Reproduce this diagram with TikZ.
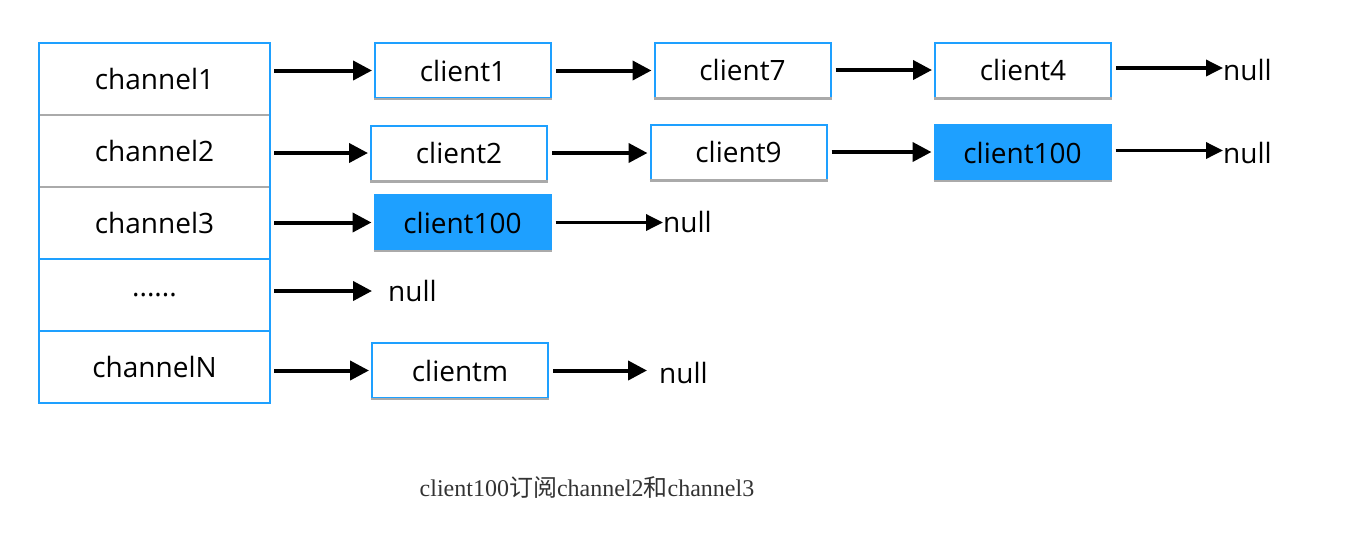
\documentclass[tikz,border=0pt]{standalone}
\usepackage{fontspec}
\setmainfont{Open Sans}
\newfontfamily\capfont{Liberation Serif}
\newfontfamily\cjk{Noto Sans CJK SC}
\usetikzlibrary{arrows.meta}
\definecolor{cblue}{RGB}{30,160,255}
\definecolor{cgray}{RGB}{170,170,170}
\tikzset{
  lbl/.style={font=\fontsize{28}{32}\selectfont, inner sep=0pt},
  cbox/.style={lbl, draw=cblue, line width=2pt, minimum width=176pt, minimum height=55pt, fill=white},
  fbox/.style={cbox, fill=cblue},
  chcell/.style={lbl, minimum width=231pt, minimum height=72pt},
  arr/.style={line width=4pt, -{Triangle[length=19pt,width=19pt]}, shorten <=4pt, shorten >=2pt},
  narr/.style={line width=3.5pt, -{Triangle[length=17pt,width=16pt]}, shorten <=4pt},
  nulltxt/.style={lbl, anchor=west},
  bottomline/.style={cgray, line width=2.5pt},
}
\begin{document}
\begin{tikzpicture}[x=1pt,y=-1pt]
\useasboundingbox (0,0) rectangle (1368,550);
% channel table
\node[chcell] (ch1) at (154.5,79) {channel1};
\node[chcell] (ch2) at (154.5,151) {channel2};
\node[chcell] (ch3) at (154.5,223) {channel3};
\node[chcell] (ch4) at (154.5,295) {......};
\node[chcell] (ch5) at (154.5,367) {channelN};
\draw[cgray, line width=2pt] (ch1.south west) -- (ch1.south east);
\draw[cgray, line width=2pt] (ch2.south west) -- (ch2.south east);
\draw[cblue, line width=2pt] (ch3.south west) -- (ch3.south east);
\draw[cblue, line width=2pt] (ch4.south west) -- (ch4.south east);
\draw[cblue, line width=2pt] (ch1.north west) rectangle (ch5.south east);
% clients
\node[cbox] (c11) at (463,70.5) {client1};
\node[cbox] (c12) at (742.5,70) {client7};
\node[cbox] (c13) at (1023,70) {client4};
\node[cbox] (c21) at (459,153) {client2};
\node[cbox] (c22) at (738.5,152) {client9};
\node[fbox] (c23) at (1022.5,152.5) {client100};
\node[fbox] (c31) at (462.5,222.5) {client100};
\node[cbox] (c51) at (460,370.5) {clientm};
\foreach \n in {c11,c12,c13,c21,c22,c23,c31,c51}
  \draw[bottomline] (\n.south west) -- (\n.south east);
% nulls
\node[nulltxt] (n1) at (1223,70) {null};
\node[nulltxt] (n2) at (1223,153) {null};
\node[nulltxt] (n3) at (663,222) {null};
\node[nulltxt] (n4) at (388,291) {null};
\node[nulltxt] (n5) at (659,373) {null};
% arrows
\draw[arr] (ch1.east |- c11.west) -- (c11.west);
\draw[arr] (c11.east) -- (c11.east -| c12.west);
\draw[arr] (c12.east) -- (c12.east -| c13.west);
\draw[narr] ([yshift=2pt]c13.east) -- ([yshift=2pt]c13.east -| n1.west);
\draw[arr] (ch2.east |- c21.west) -- (c21.west);
\draw[arr] (c21.east) -- (c21.east -| c22.west);
\draw[arr] (c22.east) -- (c22.east -| c23.west);
\draw[narr] ([yshift=2pt]c23.east) -- ([yshift=2pt]c23.east -| n2.west);
\draw[arr] (ch3.east |- c31.west) -- (c31.west);
\draw[narr] (c31.east) -- (c31.east -| n3.west);
\draw[arr, shorten >=16pt] (ch4.east |- n4.west) -- (n4.west);
\draw[arr] (ch5.east |- c51.west) -- (c51.west);
\draw[arr, shorten >=12pt] (c51.east) -- (c51.east -| n5.west);
% caption
\node[inner sep=0pt, font=\capfont\fontsize{24}{28}\selectfont, text=black!80] (cap) at (587,487) {client100{\cjk 订阅}channel2{\cjk 和}channel3};
\end{tikzpicture}
\end{document}
